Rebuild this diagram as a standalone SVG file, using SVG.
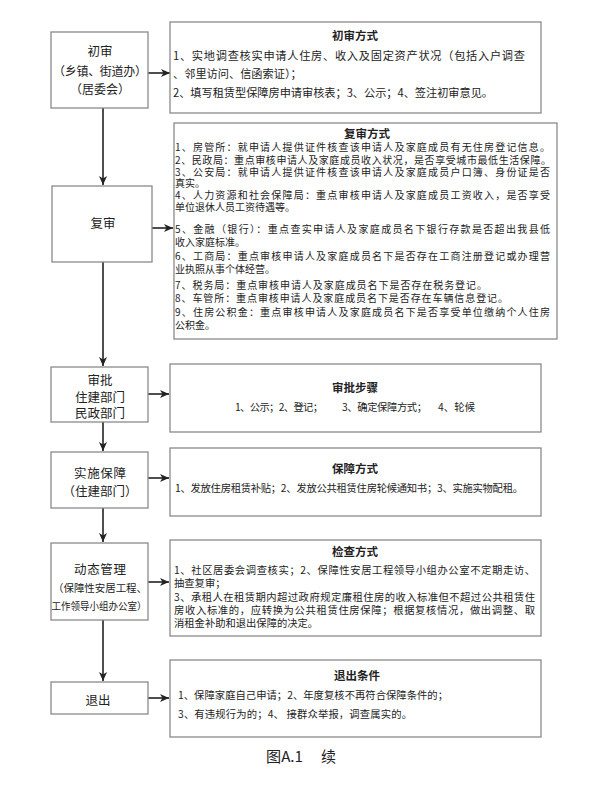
<svg xmlns="http://www.w3.org/2000/svg" width="593" height="791" viewBox="0 0 593 791">
<style>
text{font-family:"Noto Sans CJK SC","Noto Sans",sans-serif;fill:#222;}
.box{fill:#fff;stroke:#8a8a8a;stroke-width:1.3;}
.nt{font-size:12.5px;text-anchor:middle;dominant-baseline:central;}
.ttl{font-size:11.5px;font-weight:bold;text-anchor:middle;dominant-baseline:central;}
.t1{font-size:11.2px;dominant-baseline:central;}
.t2{font-size:10px;dominant-baseline:central;}
.t3{font-size:10.3px;dominant-baseline:central;}
.conn{stroke:#222;stroke-width:1.6;fill:none;marker-end:url(#arr);}
.cap{font-size:15px;dominant-baseline:central;}
</style>
<defs>
<marker id="arr" markerUnits="userSpaceOnUse" markerWidth="9" markerHeight="8" refX="9" refY="4" orient="auto">
<path d="M0,0 L9,4 L0,8 L2.5,4 z" fill="#222"/>
</marker>
</defs>
<rect width="593" height="791" fill="#fff"/>

<g id="connectors">
<path class="conn" d="M103,108 L103,185"/>
<path class="conn" d="M103,262 L103,366"/>
<path class="conn" d="M103,422 L103,451"/>
<path class="conn" d="M103,508 L103,542"/>
<path class="conn" d="M103,620 L103,681"/>
<path class="conn" d="M148,73 L170,73"/>
<path class="conn" d="M152,228 L173,228"/>
<path class="conn" d="M148,394 L169,394"/>
<path class="conn" d="M148,478 L169,478"/>
<path class="conn" d="M148,582 L169,582"/>
<path class="conn" d="M148,698 L169,698"/>
</g>

<g id="node-chushen">
<rect class="box" x="51" y="32" width="97" height="76"/>
<text class="nt" x="100" y="50">初审</text>
<text class="nt" x="100" y="70" style="font-size:12px" textLength="94" lengthAdjust="spacing">（乡镇、街道办）</text>
<text class="nt" x="100" y="88" style="font-size:12px">（居委会）</text>
</g>

<g id="box-chushen">
<rect class="box" x="170" y="22" width="371" height="91"/>
<text class="ttl" x="355" y="35">初审方式</text>
<text class="t1" x="173" y="55" textLength="352" lengthAdjust="spacing">1、实地调查核实申请人住房、收入及固定资产状况（包括入户调查</text>
<text class="t1" x="173" y="73">、邻里访问、信函索证）；</text>
<text class="t1" x="173" y="92" textLength="320" lengthAdjust="spacing">2、填写租赁型保障房申请审核表；3、公示；4、签注初审意见。</text>
</g>

<g id="node-fushen">
<rect class="box" x="52" y="186" width="100" height="76"/>
<text class="nt" x="103" y="222">复审</text>
</g>

<g id="box-fushen">
<rect class="box" x="174" y="123" width="383" height="216"/>
<text class="ttl" x="367" y="133">复审方式</text>
<text class="t2" x="175" y="146" textLength="375" lengthAdjust="spacing">1、房管所：就申请人提供证件核查该申请人及家庭成员有无住房登记信息。</text>
<text class="t2" x="175" y="159" textLength="376" lengthAdjust="spacing">2、民政局：重点审核申请人及家庭成员收入状况，是否享受城市最低生活保障。</text>
<text class="t2" x="175" y="171" textLength="375" lengthAdjust="spacing">3、公安局：就申请人提供证件核查该申请人及家庭成员户口簿、身份证是否</text>
<text class="t2" x="175" y="182">真实。</text>
<text class="t2" x="175" y="194" textLength="375" lengthAdjust="spacing">4、人力资源和社会保障局：重点审核申请人及家庭成员工资收入，是否享受</text>
<text class="t2" x="175" y="206">单位退休人员工资待遇等。</text>
<text class="t2" x="175" y="228" textLength="375" lengthAdjust="spacing">5、金融（银行）：重点查实申请人及家庭成员名下银行存款是否超出我县低</text>
<text class="t2" x="175" y="241">收入家庭标准。</text>
<text class="t2" x="175" y="255" textLength="375" lengthAdjust="spacing">6、工商局：重点审核申请人及家庭成员名下是否存在工商注册登记或办理营</text>
<text class="t2" x="175" y="268">业执照从事个体经营。</text>
<text class="t2" x="175" y="284" textLength="312" lengthAdjust="spacing">7、税务局：重点审核申请人及家庭成员名下是否存在税务登记。</text>
<text class="t2" x="175" y="297" textLength="333" lengthAdjust="spacing">8、车管所：重点审核申请人及家庭成员名下是否存在车辆信息登记。</text>
<text class="t2" x="175" y="311" textLength="375" lengthAdjust="spacing">9、住房公积金：重点审核申请人及家庭成员名下是否享受单位缴纳个人住房</text>
<text class="t2" x="175" y="324">公积金。</text>
</g>

<g id="node-shenpi">
<rect class="box" x="51" y="367" width="97" height="55"/>
<text class="nt" x="100" y="379">审批</text>
<text class="nt" x="100" y="396">住建部门</text>
<text class="nt" x="100" y="412">民政部门</text>
</g>

<g id="box-shenpi">
<rect class="box" x="170" y="364" width="371" height="68"/>
<text class="ttl" x="355" y="387">审批步骤</text>
<text class="t3" x="235" y="406" textLength="88" lengthAdjust="spacing">1、公示；2、登记；</text>
<text class="t3" x="342" y="406" textLength="85" lengthAdjust="spacing">3、确定保障方式；</text>
<text class="t3" x="438" y="406" textLength="37" lengthAdjust="spacing">4、轮候</text>
</g>

<g id="node-shishi">
<rect class="box" x="51" y="452" width="97" height="56"/>
<text class="nt" x="100" y="472" textLength="52" lengthAdjust="spacing">实施保障</text>
<text class="nt" x="100" y="490">（住建部门）</text>
</g>

<g id="box-shishi">
<rect class="box" x="170" y="448" width="371" height="68"/>
<text class="ttl" x="355" y="468">保障方式</text>
<text class="t3" x="175" y="487" textLength="348" lengthAdjust="spacing">1、发放住房租赁补贴；2、发放公共租赁住房轮候通知书；3、实施实物配租。</text>
</g>

<g id="node-dongtai">
<rect class="box" x="51" y="543" width="97" height="77"/>
<text class="nt" x="100" y="568" textLength="52" lengthAdjust="spacing">动态管理</text>
<text class="nt" x="100" y="587" style="font-size:10.5px" textLength="94" lengthAdjust="spacing">（保障性安居工程、</text>
<text class="nt" x="99" y="605" style="font-size:10px" textLength="95" lengthAdjust="spacingAndGlyphs">工作领导小组办公室）</text>
</g>

<g id="box-dongtai">
<rect class="box" x="170" y="540" width="371" height="96"/>
<text class="ttl" x="355" y="551">检查方式</text>
<text class="t3" x="174" y="569" textLength="361" lengthAdjust="spacing">1、社区居委会调查核实；2、保障性安居工程领导小组办公室不定期走访、</text>
<text class="t3" x="174" y="582">抽查复审；</text>
<text class="t3" x="174" y="596" textLength="361" lengthAdjust="spacing">3、承租人在租赁期内超过政府规定廉租住房的收入标准但不超过公共租赁住</text>
<text class="t3" x="174" y="609" textLength="361" lengthAdjust="spacing">房收入标准的，应转换为公共租赁住房保障；根据复核情况，做出调整、取</text>
<text class="t3" x="174" y="622">消租金补助和退出保障的决定。</text>
</g>

<g id="node-tuichu">
<rect class="box" x="51" y="682" width="97" height="32"/>
<text class="nt" x="98" y="699">退出</text>
</g>

<g id="box-tuichu">
<rect class="box" x="170" y="660" width="371" height="77"/>
<text class="ttl" x="357" y="675">退出条件</text>
<text class="t3" x="178" y="694" textLength="270" lengthAdjust="spacing">1、保障家庭自己申请；2、年度复核不再符合保障条件的；</text>
<text class="t3" x="178" y="713" textLength="234" lengthAdjust="spacing">3、有违规行为的；4、 接群众举报，调查属实的。</text>
</g>

<text class="cap" x="266" y="755" textLength="37" lengthAdjust="spacingAndGlyphs">图A.1</text>
<text class="cap" x="321" y="755">续</text>
</svg>
